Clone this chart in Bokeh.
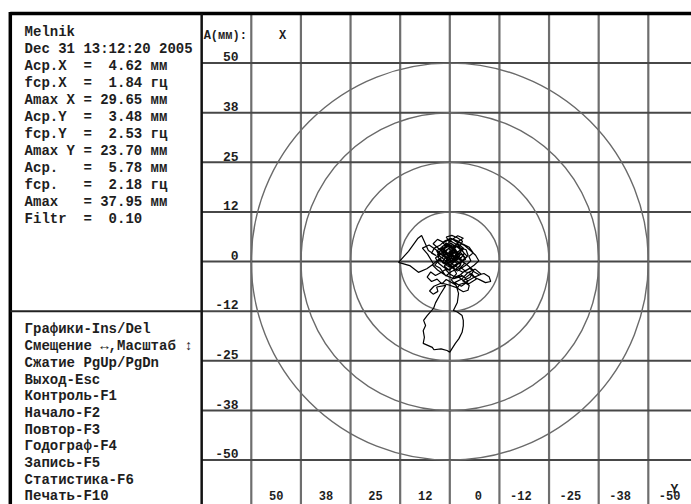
from bokeh.plotting import figure
from bokeh.models import Range1d
from bokeh.core.properties import value
from bokeh.embed import file_html
from bokeh.resources import INLINE

# ---- session header and statistics ----
subject = "Melnik"
timestamp = "Dec 31 13:12:20 2005"
stat_names = ["Аср.X ", "fср.X ", "Amax X", "Аср.Y ", "fср.Y ", "Amax Y",
              "Аср.  ", "fср.  ", "Amax  ", "Filtr "]
stat_values = [4.62, 1.84, 29.65, 3.48, 2.53, 23.70, 5.78, 2.18, 37.95, 0.10]
stat_units = ["мм", "гц", "мм", "мм", "гц", "мм", "мм", "гц", "мм", ""]

# ---- key help menu ----
menu_items = ["Графики-Ins/Del", "Смещение ↔,Масштаб ↕", "Сжатие PgUp/PgDn",
              "Выход-Esc", "Контроль-F1", "Начало-F2", "Повтор-F3",
              "Годограф-F4", "Запись-F5", "Статистика-F6", "Печать-F10"]

# ---- scale grid (mm) ----
grid_ticks = [50, 37.5, 25, 12.5, 0, -12.5, -25, -37.5, -50]
tick_labels = ["50", "38", "25", "12", "0", "-12", "-25", "-38", "-50"]
ring_radii = [12.5, 25, 37.5, 50]

# ---- centre-of-pressure trajectory (mm) ----
traj_x = [0.0, 1.2, 0.4, -0.8, -1.5, -0.3, 0.9, 1.8, 0.6, -0.7, -2.0, -2.6, -1.4, -2.8, -3.6, -2.9,
          -4.1, -4.6, -3.5, -2.1, -0.9, 0.3, 1.5, 2.6, 3.3, 2.2, 1.0, 2.4, 3.6, 2.8, 1.7, 0.5,
          -0.8, -1.9, -3.0, -4.2, -5.3, -4.8, -5.9, -4.9, -3.3, -1.8, -0.2, 1.3, 2.5, 3.9, 4.6, 3.4,
          5.4, 7.1, 8.0, 10.4, 12.9, 10.1, 7.9, 5.8, 4.1, 5.6, 6.9, 5.2, 3.5,
          2.0, 0.8, -0.5, -1.8, -1.1, 0.2, -0.6, -2.3, -3.1, -2.4, -3.8, -5.0, -6.2, -7.4, -8.6, -9.9,
          -10.3, -9.0, -7.6, -6.3, -5.1, -3.9, -2.7, -1.3, 0.0, 1.1, 2.3, 3.6, 4.8, 5.7, 4.6, 3.2,
          2.0, 0.9, -1.4, -2.2, -3.4, -4.6, -4.9, -3.9, -2.6, -1.9, 0.2, 2.1, 4.0, 5.1, 4.2, 3.0,
          3.3, 1.0, 2.5, 3.6, 4.1, 5.7, 6.6, 6.1, 6.7, 6.4, 6.7, 4.4, 4.0, 2.2, 0.7, 0.0,
          -1.4, -2.3, -3.1, -3.4, -3.4, -3.1, -1.9, -0.9, -1.9, -2.2, -1.6, -0.4, -1.7, -0.9, 0.7, 1.9,
          0.9, -0.4, -1.2, -2.0, -0.9, 0.5, -0.6, -2.4, -3.2, -1.9, -0.5, 0.9, 0.1, 1.6, 2.9, 1.4,
          0.2, -1.0, -2.6, -3.9, -2.7, -1.5, -0.3, 1.1, 2.0, 0.6, -0.8, -2.2, -3.8, -5.2, -6.5, -7.3,
          -6.1, -4.7, -3.3, -1.8, -0.4, 1.0, 2.5, 3.8, 2.7, 1.3, 0.1, -1.3, -0.6, 0.6,
          1.8, 0.3, -1.1, 0.5, -0.4, -2.1, -1.0, 0.8, 2.2, 0.9, -0.7, -1.9, -3.0, -1.6, -0.2, 1.3,
          0.1, -1.4, -2.6, -1.2, 0.4, 1.9, 3.1, 1.7, 0.2, -1.3, -2.9, -4.0, -2.5, -1.1, 0.3, -0.9,
          -2.2, -3.5, -2.0, -0.6, 0.9, 2.4, 1.2, -0.3, -1.7, -3.2, -4.4, -3.0, -1.5, 0.0, 1.4, 0.1,
          -1.2, -2.4, -3.7, -2.3, -0.8, 0.7, 2.0, 3.0, 1.6, 0.0, -1.6, -2.8, -1.4, -0.1, 1.1, -0.2,
          -1.5, -0.5,
          -2.0, -4.3, -6.0, -5.1, -3.2, -4.8, -6.7, -5.5, -3.6, -2.1, -4.0, -5.8, -7.9, -6.4, -4.5, -3.0,
          -1.2, -2.9, -4.6, -3.3, -1.0, 1.2, 3.0, 4.4, 2.9, 1.1, 2.6, 4.2, 3.1, 1.5, -0.4, -1.8,
          -3.4, -2.0, -0.3, 1.0]
traj_y = [1.0, 2.1, 3.3, 2.6, 3.8, 4.6, 3.9, 4.8, 5.5, 4.9, 4.2, 2.9, 1.7, 0.9, 2.0, 3.4,
          3.0, 1.6, 0.4, -0.6, 0.3, -0.5, 0.6, 1.4, 2.7, 3.5, 2.8, 2.0, 0.9, -0.4, -1.3, -2.1,
          -1.5, -2.4, -1.6, -0.8, 0.2, 1.3, 2.2, 3.6, 4.4, 5.3, 5.9, 5.2, 4.1, 3.4, 2.1, 1.5,
          2.8, 6.6, 5.9, 2.6, -0.2, -1.0, -2.7, -1.8, -0.6, 1.9, 3.4, 4.2, 3.0,
          1.8, 0.9, 1.9, 2.5, 3.5, 2.4, 0.8, 1.4, 0.2, -1.2, -2.3, -1.7, -2.6, -3.3, -3.0, -3.8,
          -5.0, -5.3, -4.6, -4.0, -3.2, -4.1, -3.3, -3.9, -3.1, -2.0, -2.8, -3.5, -2.6, -3.9, -5.0, -4.4,
          -5.6, -4.5, -5.8, -6.9, -7.6, -7.2, -6.0, -5.3, -5.7, -6.6, -5.9, -5.4, -6.2, -7.4, -8.2, -7.5,
          -6.4, -6.0, -8.4, -10.4, -11.8, -13.6, -14.8, -16.1, -17.4, -19.1, -20.6, -21.6, -22.2, -22.0, -22.4, -22.8,
          -20.6, -19.4, -17.8, -16.2, -14.8, -13.6, -12.7, -12.3, -10.3, -8.0, -6.0, -4.6, -3.0, -1.7, -1.0, -0.2,
          1.3, 2.0, 0.9, 2.1, 3.1, 3.8, 4.2, 3.6, 5.1, 6.0, 6.6, 6.2, 4.9, 3.4, 2.3, 1.2,
          0.1, -0.9, -0.2, 1.0, 2.3, 1.2, 1.4, 2.6, 3.8, 4.4, 3.7, 4.9, 4.0, 2.8, 1.6, 0.2,
          -0.9, -1.9, -2.7, -1.9, -2.5, -3.6, -1.6, -0.9, 0.4, -0.3, 0.6, -0.1, 1.7, 2.2,
          3.0, 3.9, 2.8, 1.5, 0.2, 1.1, 2.4, 1.9, 2.9, 4.1, 3.2, 4.4, 3.1, 2.2, 3.6, 2.7,
          1.0, 0.4, 1.6, 2.9, 4.0, 3.3, 1.8, 0.7, -0.4, 0.8, 1.9, 0.6, -0.3, -1.4, -0.6, 0.9,
          2.0, 3.3, 4.6, 3.5, 4.7, 3.1, 1.6, 2.5, 3.8, 2.6, 1.3, 0.1, 1.2, 0.0, -1.1, -2.2,
          -0.9, -1.8, -0.5, 0.8, -0.2, 0.9, 2.3, 1.1, -0.1, -1.0, 0.3, -0.8, -2.0, -1.2, 0.2, 1.4,
          2.6, 1.9,
          1.0, -0.8, -2.2, -4.0, -4.8, -5.6, -4.4, -3.0, -2.5, -3.8, -5.2, -4.1, -3.2, -1.9, -2.8, -4.4,
          -5.3, -6.2, -5.0, -3.6, -4.3, -3.4, -2.2, -0.8, 0.5, 1.6, 3.1, 4.5, 5.6, 4.8, 5.8, 4.9,
          5.9, 6.5, 5.4, 3.9]
assert len(traj_x) == len(traj_y)

# ---- frame geometry (mm) ----
X_LEFT, X_RIGHT = 113.17, -60.88       # visible span, Y axis runs right-to-left
Y_BOTTOM, Y_TOP = -61.18, 65.77
PANEL_LEFT = 110.7                      # outer left border
CHART_EDGE = 62.5                       # top border / panel divider

FONT = value("Liberation Mono")
INK = "#1e1e1e"
NBSP = "\u00a0"


def fixed(s):
    # keep monospace column alignment (SVG collapses runs of spaces)
    return s.replace(" ", NBSP)


p = figure(width=691, height=504,
           x_range=Range1d(X_LEFT, X_RIGHT), y_range=Range1d(Y_BOTTOM, Y_TOP),
           x_axis_type=None, y_axis_type=None,
           output_backend="svg", toolbar_location=None, min_border=0)
p.grid.visible = False
p.outline_line_color = None
p.background_fill_color = "white"
p.border_fill_color = "white"

# vertical grid lines
vx = grid_ticks + [-62.5]
p.segment(x0=vx, y0=[CHART_EDGE] * len(vx), x1=vx, y1=[Y_BOTTOM] * len(vx),
          line_color="#6e6e6e", line_width=2.2)
# horizontal grid lines
p.segment(x0=[CHART_EDGE] * len(grid_ticks), y0=grid_ticks,
          x1=[X_RIGHT] * len(grid_ticks), y1=grid_ticks,
          line_color="#474747", line_width=2)

# concentric amplitude rings
p.circle(x=[0] * len(ring_radii), y=[0] * len(ring_radii), radius=ring_radii,
         fill_color=None, line_color="#6a6a6a", line_width=1.4)

# trajectory
p.line(traj_x, traj_y, line_color="black", line_width=1.2)

# frame: outer borders, panel divider, panel split
p.segment(x0=[PANEL_LEFT], y0=[CHART_EDGE], x1=[X_RIGHT], y1=[CHART_EDGE],
          line_color="black", line_width=3.5)
p.segment(x0=[PANEL_LEFT], y0=[CHART_EDGE + 0.4], x1=[PANEL_LEFT], y1=[Y_BOTTOM],
          line_color="black", line_width=3.5)
p.segment(x0=[CHART_EDGE], y0=[CHART_EDGE], x1=[CHART_EDGE], y1=[Y_BOTTOM],
          line_color="#111111", line_width=2.5)
p.segment(x0=[PANEL_LEFT], y0=[-12.5], x1=[CHART_EDGE], y1=[-12.5],
          line_color="#222222", line_width=2)

text_kw = dict(text_font=FONT, text_font_style="bold", text_color=INK)

# vertical scale labels (sit just above their line)
p.text(x=[53.2] * len(grid_ticks), y=[t + 0.45 for t in grid_ticks], text=tick_labels,
       text_align="right", text_baseline="bottom", text_font_size="13px", **text_kw)
# horizontal scale labels (in the bottom row, right of their line)
p.text(x=[t - 8.1 for t in grid_ticks], y=[-58.9] * len(grid_ticks), text=tick_labels,
       text_align="right", text_baseline="middle", text_font_size="12px", **text_kw)
# axis captions
p.text(x=[62.0, 43.0], y=[56.9, 56.9], text=["A(мм):", "X"],
       text_align="left", text_baseline="middle", text_font_size="12px", **text_kw)
p.text(x=[-55.6], y=[-57.5], text=["Y"],
       text_align="left", text_baseline="middle", text_font_size="13px", **text_kw)

# statistics panel
stat_lines = [subject, timestamp] + [
    fixed(f"{n} = {v:5.2f} {u}".rstrip())
    for n, v, u in zip(stat_names, stat_values, stat_units)]
step_top = 4.28
p.text(x=[107.1] * len(stat_lines),
       y=[57.8 - step_top * i for i in range(len(stat_lines))],
       text=[fixed(s) for s in stat_lines], text_align="left", text_baseline="middle",
       text_font_size="14px", **text_kw)

# menu panel
step_menu = 4.2
p.text(x=[107.1] * len(menu_items),
       y=[-17.1 - step_menu * i for i in range(len(menu_items))],
       text=[fixed(s) for s in menu_items], text_align="left", text_baseline="middle",
       text_font_size="14px", **text_kw)

open("out.html", "w").write(file_html(p, INLINE))
